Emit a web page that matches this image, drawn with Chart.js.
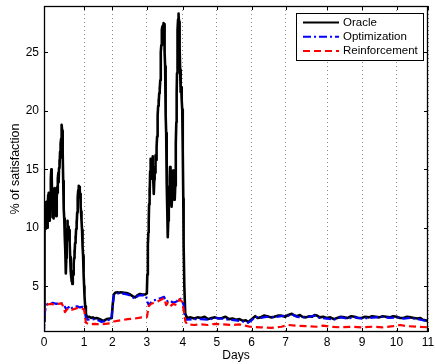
<!DOCTYPE html>
<html>
<head>
<meta charset="utf-8">
<script src="https://cdn.jsdelivr.net/npm/chart.js@4/dist/chart.umd.min.js"></script>
<style>
  html, body { margin: 0; padding: 0; background: #fff; }
</style>
</head>
<body>
<canvas id="myChart" width="435" height="364"></canvas>
<script>
// x ticks are placed where each day starts on the recorded time axis
const dayTicks = [0, 1.147, 1.959, 2.946, 3.979, 4.954, 5.947, 6.922, 8.110, 9.114, 10.098, 11];
const dayLabels = ['0', '1', '2', '3', '4', '5', '6', '7', '8', '9', '10', '11'];
const satTicks = [5, 10, 15, 20, 25];

// [day, % of satisfaction]
const oracle = [
  [0, 2.0], [0.01, 6.0], [0.02, 9.5], [0.03, 10.8], [0.04, 9.9], [0.05, 11.5], [0.06, 12.2], [0.07, 11.0],
  [0.08, 11.9], [0.09, 10.3], [0.1, 10.0], [0.11, 11.8], [0.12, 12.8], [0.13, 12.1], [0.14, 13.0], [0.15, 11.2],
  [0.16, 10.6], [0.17, 11.6], [0.18, 12.9], [0.19, 13.4], [0.2, 14.2], [0.21, 15.0], [0.22, 14.6], [0.23, 12.8],
  [0.24, 11.6], [0.25, 10.9], [0.26, 11.5], [0.27, 10.8], [0.28, 12.3], [0.29, 13.3], [0.3, 12.6], [0.31, 13.4],
  [0.32, 12.5], [0.33, 11.4], [0.34, 12.2], [0.35, 11.0], [0.36, 11.6], [0.37, 12.6], [0.38, 13.5], [0.39, 13.0],
  [0.4, 14.2], [0.41, 14.7], [0.42, 13.9], [0.43, 15.1], [0.44, 15.8], [0.45, 15.2], [0.46, 16.5], [0.47, 16.0],
  [0.48, 17.2], [0.49, 17.6], [0.5, 18.4], [0.51, 18.8], [0.52, 18.3], [0.53, 17.9], [0.54, 16.5], [0.55, 14.0],
  [0.56, 12.5], [0.57, 11.6], [0.58, 10.8], [0.59, 10.1], [0.6, 9.2], [0.61, 8.0], [0.62, 6.8], [0.63, 6.1],
  [0.64, 7.4], [0.65, 8.6], [0.66, 9.9], [0.67, 10.6], [0.68, 9.8], [0.69, 9.0], [0.7, 9.5], [0.71, 10.1],
  [0.72, 9.6], [0.73, 9.8], [0.74, 8.7], [0.75, 7.5], [0.76, 6.8], [0.77, 6.3], [0.78, 5.8], [0.79, 5.4],
  [0.8, 5.9], [0.81, 5.2], [0.82, 5.6], [0.83, 6.3], [0.84, 6.0], [0.85, 6.9], [0.86, 7.4], [0.87, 8.1],
  [0.88, 7.7], [0.89, 8.7], [0.9, 9.3], [0.91, 9.0], [0.92, 9.9], [0.93, 10.6], [0.94, 10.2], [0.95, 11.3],
  [0.96, 12.0], [0.97, 12.6], [0.98, 13.2], [0.99, 12.7], [1.0, 13.6], [1.01, 13.1], [1.02, 13.5], [1.03, 12.6],
  [1.04, 12.9], [1.05, 11.8], [1.06, 11.4], [1.07, 10.9], [1.08, 10.6], [1.09, 9.8], [1.1, 9.0], [1.11, 8.4],
  [1.12, 7.6], [1.13, 7.0], [1.14, 6.0], [1.15, 5.0], [1.16, 4.2], [1.18, 3.3], [1.2, 2.7], [1.225, 2.35],
  [1.3, 2.4], [1.35, 2.3], [1.4, 2.35], [1.45, 2.25], [1.5, 2.3], [1.55, 2.25], [1.6, 2.2], [1.66, 2.1],
  [1.72, 2.05], [1.76, 2.15], [1.8, 2.2], [1.88, 2.25], [1.94, 2.3], [1.97, 3.5], [2.0, 4.3], [2.04, 4.45],
  [2.1, 4.5], [2.15, 4.45], [2.2, 4.5], [2.3, 4.45], [2.4, 4.4], [2.47, 4.3], [2.55, 4.15], [2.61, 4.05],
  [2.68, 4.25], [2.75, 4.35], [2.82, 4.3], [2.9, 4.3],
  [2.946, 4.4], [2.96, 6.0], [2.975, 8.5], [2.99, 9.6], [3.0, 10.5], [3.01, 12.0], [3.02, 13.4], [3.03, 12.6],
  [3.04, 14.8], [3.05, 15.6], [3.06, 15.9], [3.07, 14.2], [3.08, 15.4], [3.09, 14.6], [3.1, 15.8], [3.11, 16.1],
  [3.12, 15.3], [3.13, 14.0], [3.14, 13.2], [3.15, 12.9], [3.16, 14.1], [3.17, 15.2], [3.18, 14.7], [3.19, 15.5],
  [3.2, 16.2], [3.21, 15.8], [3.22, 16.6], [3.23, 16.9], [3.24, 17.8], [3.25, 18.9], [3.26, 19.6], [3.27, 20.4],
  [3.28, 21.0], [3.29, 20.6], [3.3, 21.5], [3.31, 22.0], [3.32, 21.8], [3.33, 22.6], [3.34, 23.8], [3.35, 25.0],
  [3.36, 25.6], [3.37, 26.4], [3.38, 26.9], [3.39, 27.2], [3.4, 26.8], [3.41, 27.3], [3.42, 27.1], [3.43, 27.5],
  [3.44, 27.4], [3.45, 26.2], [3.46, 25.0], [3.47, 23.8], [3.48, 21.5], [3.49, 19.6], [3.5, 18.1], [3.51, 15.8],
  [3.52, 13.8], [3.53, 11.6], [3.54, 9.8], [3.55, 9.2], [3.56, 10.6], [3.57, 12.1], [3.58, 13.5], [3.59, 12.8],
  [3.6, 14.2], [3.61, 15.2], [3.62, 14.0], [3.63, 12.9], [3.64, 12.3], [3.65, 13.4], [3.66, 11.8], [3.67, 12.6],
  [3.68, 13.6], [3.69, 14.3], [3.7, 14.9], [3.71, 13.8], [3.72, 13.0], [3.73, 12.4], [3.74, 13.1], [3.75, 12.4],
  [3.76, 13.6], [3.77, 15.4], [3.78, 17.2], [3.79, 19.0], [3.8, 21.5], [3.81, 23.2], [3.82, 25.6], [3.83, 26.9],
  [3.84, 27.8], [3.85, 28.3], [3.86, 28.1], [3.87, 27.6], [3.88, 27.0], [3.89, 25.4], [3.9, 23.5], [3.91, 22.3],
  [3.92, 21.6], [3.93, 22.0], [3.94, 21.2], [3.95, 20.9], [3.96, 20.1], [3.97, 18.2], [3.98, 16.6], [3.99, 12.5],
  [4.0, 8.5], [4.02, 5.0], [4.045, 2.7], [4.094, 2.3],
  [4.2, 2.35], [4.3, 2.25], [4.4, 2.35], [4.5, 2.3], [4.6, 2.4], [4.7, 2.2], [4.8, 2.3], [4.9, 2.35],
  [5.0, 2.25], [5.1, 2.3], [5.2, 2.4], [5.3, 2.2], [5.4, 2.25], [5.5, 2.15], [5.6, 2.2], [5.7, 2.05],
  [5.78, 2.1], [5.85, 1.95], [5.95, 2.2], [6.05, 2.45], [6.12, 2.3], [6.2, 2.35], [6.3, 2.5], [6.4, 2.45],
  [6.5, 2.35], [6.6, 2.4], [6.7, 2.5], [6.8, 2.5], [6.9, 2.4], [7.0, 2.55], [7.1, 2.65], [7.18, 2.5],
  [7.25, 2.45], [7.33, 2.55], [7.4, 2.4], [7.5, 2.35], [7.6, 2.45], [7.68, 2.4], [7.75, 2.55], [7.82, 2.5],
  [7.9, 2.35], [8.0, 2.4], [8.1, 2.3], [8.2, 2.35], [8.3, 2.2], [8.4, 2.3], [8.5, 2.4], [8.6, 2.35],
  [8.7, 2.3], [8.8, 2.45], [8.9, 2.4], [9.0, 2.3], [9.1, 2.3], [9.2, 2.4], [9.3, 2.35], [9.4, 2.45],
  [9.5, 2.4], [9.6, 2.35], [9.7, 2.45], [9.8, 2.4], [9.9, 2.35], [10.0, 2.45], [10.1, 2.4], [10.2, 2.3],
  [10.3, 2.3], [10.4, 2.4], [10.5, 2.35], [10.6, 2.3], [10.7, 2.25], [10.78, 2.3], [10.85, 2.15], [10.93, 2.1],
  [11.0, 2.05]
];

const optimization = [
  [0, 1.1], [0.02, 2.6], [0.05, 3.3], [0.1, 3.5], [0.17, 3.45], [0.25, 3.6], [0.35, 3.5], [0.45, 3.6],
  [0.55, 3.5], [0.6, 3.25], [0.63, 3.05], [0.7, 3.2], [0.75, 3.35], [0.8, 3.15], [0.87, 3.25], [0.95, 3.3],
  [1.03, 3.2], [1.1, 3.25], [1.15, 3.2], [1.2, 2.3], [1.25, 2.15], [1.4, 2.2], [1.55, 2.1], [1.65, 1.95],
  [1.8, 2.1], [1.93, 2.15], [1.97, 3.4], [2.0, 4.2], [2.1, 4.4], [2.2, 4.4], [2.3, 4.35], [2.4, 4.3],
  [2.5, 4.15], [2.6, 3.95], [2.7, 4.2], [2.8, 4.25], [2.92, 4.2], [2.96, 3.7], [3.0, 3.4], [3.06, 3.6],
  [3.15, 3.8], [3.25, 3.9], [3.35, 4.0], [3.44, 4.1], [3.5, 3.7], [3.6, 3.8], [3.7, 3.6], [3.8, 3.7],
  [3.88, 4.0], [3.95, 3.8], [4.0, 3.4], [4.04, 2.2], [4.1, 2.15], [4.3, 2.2], [4.5, 2.2], [4.7, 2.15],
  [4.9, 2.3], [5.1, 2.25], [5.3, 2.15], [5.5, 2.1], [5.7, 2.0], [5.85, 1.9], [5.95, 2.1], [6.05, 2.4],
  [6.2, 2.3], [6.4, 2.4], [6.6, 2.35], [6.8, 2.45], [7.0, 2.5], [7.1, 2.6], [7.25, 2.4], [7.4, 2.35],
  [7.6, 2.4], [7.75, 2.5], [7.9, 2.3], [8.1, 2.25], [8.3, 2.15], [8.5, 2.35], [8.7, 2.25], [8.9, 2.35],
  [9.1, 2.25], [9.3, 2.3], [9.5, 2.35], [9.7, 2.4], [9.9, 2.3], [10.1, 2.35], [10.3, 2.25], [10.5, 2.3],
  [10.7, 2.2], [10.85, 2.1], [11.0, 2.0]
];

const reinforcement = [
  [0, 2.6], [0.02, 3.3], [0.1, 3.45], [0.2, 3.5], [0.3, 3.45], [0.4, 3.5], [0.5, 3.55], [0.55, 3.3],
  [0.6, 2.8], [0.65, 3.0], [0.7, 3.15], [0.8, 3.0], [0.9, 3.1], [1.0, 3.2], [1.1, 3.1], [1.15, 3.0],
  [1.2, 1.9], [1.3, 1.75], [1.45, 1.8], [1.6, 1.75], [1.75, 1.8], [1.9, 1.85], [2.0, 2.0], [2.2, 2.1],
  [2.4, 2.2], [2.6, 2.25], [2.8, 2.35], [2.95, 2.4], [3.0, 3.3], [3.06, 3.5], [3.15, 3.6], [3.25, 3.7],
  [3.35, 3.85], [3.44, 4.0], [3.5, 3.4], [3.55, 3.6], [3.62, 3.3], [3.7, 3.5], [3.8, 3.4], [3.88, 3.9],
  [3.95, 3.7], [4.0, 3.0], [4.05, 2.0], [4.1, 1.75], [4.3, 1.7], [4.5, 1.75], [4.7, 1.7], [4.9, 1.8],
  [5.1, 1.75], [5.4, 1.7], [5.6, 1.75], [5.9, 1.55], [6.2, 1.5], [6.5, 1.45], [6.8, 1.55], [7.0, 1.7],
  [7.2, 1.65], [7.5, 1.6], [7.8, 1.55], [8.0, 1.65], [8.2, 1.55], [8.5, 1.5], [8.8, 1.55], [9.1, 1.5],
  [9.4, 1.55], [9.7, 1.5], [10.0, 1.6], [10.2, 1.7], [10.4, 1.6], [10.7, 1.55], [11, 1.5]
];

const toPoints = rows => rows.map(r => ({ x: r[0], y: r[1] }));

Chart.defaults.font.family = '"Liberation Sans", Arial, Helvetica, sans-serif';
Chart.defaults.font.size = 12;
Chart.defaults.color = '#000';

// no extra room for overhanging tick labels, keep the plot box fixed
const noOverhang = s => {
  s.paddingLeft = 0; s.paddingRight = 0; s.paddingTop = 0; s.paddingBottom = 0;
};

// matlab style box, inward ticks and framed legend
const matlabBox = {
  id: 'matlabBox',
  afterDatasetsDraw(chart) {
    const { ctx, chartArea: a, scales } = chart;
    const x = scales.x, y = scales.y;
    ctx.save();
    ctx.strokeStyle = '#000';
    ctx.lineWidth = 1;
    ctx.beginPath();
    x.ticks.forEach(t => {
      const px = Math.round(x.getPixelForValue(t.value)) + 0.5;
      ctx.moveTo(px, a.bottom); ctx.lineTo(px, a.bottom - 4);
      ctx.moveTo(px, a.top); ctx.lineTo(px, a.top + 4);
    });
    y.ticks.forEach(t => {
      const py = Math.round(y.getPixelForValue(t.value)) + 0.5;
      ctx.moveTo(a.left, py); ctx.lineTo(a.left + 4, py);
      ctx.moveTo(a.right, py); ctx.lineTo(a.right - 4, py);
    });
    ctx.stroke();
    ctx.lineWidth = 1.3;
    ctx.strokeRect(a.left + 0.5, a.top + 0.5, a.right - a.left - 1, a.bottom - a.top - 1);

    // legend
    const lx = 296, ly = 13, lw = 127, lh = 47;
    ctx.fillStyle = '#fff';
    ctx.fillRect(lx, ly, lw, lh);
    ctx.lineWidth = 1;
    ctx.strokeRect(lx + 0.5, ly + 0.5, lw, lh);
    ctx.font = '11.5px "Liberation Sans", Arial, sans-serif';
    ctx.textBaseline = 'middle';
    chart.data.datasets.forEach((ds, i) => {
      const cy = ly + 9.5 + i * 14.3;
      ctx.strokeStyle = ds.borderColor;
      ctx.lineWidth = Math.min(ds.borderWidth, 2);
      ctx.setLineDash(ds.borderDash || []);
      ctx.beginPath();
      ctx.moveTo(lx + 7, cy);
      ctx.lineTo(lx + 43, cy);
      ctx.stroke();
      ctx.setLineDash([]);
      ctx.fillStyle = '#000';
      ctx.fillText(ds.label, lx + 47, cy);
    });
    ctx.restore();
  }
};

new Chart(document.getElementById('myChart'), {
  type: 'line',
  data: {
    datasets: [
      {
        label: 'Oracle',
        data: toPoints(oracle),
        borderColor: '#000',
        borderWidth: 2.6,
        order: 3
      },
      {
        label: 'Optimization',
        data: toPoints(optimization),
        borderColor: '#0000ff',
        borderWidth: 2.2,
        borderDash: [8, 3, 2, 3],
        order: 2
      },
      {
        label: 'Reinforcement',
        data: toPoints(reinforcement),
        borderColor: '#ff0000',
        borderWidth: 2.2,
        borderDash: [7, 4],
        order: 1
      }
    ]
  },
  options: {
    responsive: false,
    animation: false,
    devicePixelRatio: 1,
    layout: { padding: { left: 0, top: 6, right: 7, bottom: 0 } },
    elements: { point: { radius: 0 }, line: { tension: 0, fill: false, borderJoinStyle: 'round' } },
    plugins: { legend: { display: false }, tooltip: { enabled: false } },
    scales: {
      x: {
        type: 'linear',
        min: 0,
        max: 11,
        afterBuildTicks: s => { s.ticks = dayTicks.map(v => ({ value: v })); },
        afterFit: s => { s.height = 32; noOverhang(s); },
        ticks: {
          padding: 3,
          maxRotation: 0,
          autoSkip: false,
          callback: (v, i) => dayLabels[i]
        },
        grid: { color: '#8a8a8a', lineWidth: 1, drawTicks: false },
        border: { display: false, dash: [1, 3] },
        title: { display: true, text: 'Days', padding: { top: 0, bottom: 1 } }
      },
      y: {
        type: 'linear',
        min: 1.1,
        max: 28.95,
        afterBuildTicks: s => { s.ticks = satTicks.map(v => ({ value: v })); },
        afterFit: s => { s.width = 44; noOverhang(s); },
        ticks: { padding: 5, callback: v => String(v) },
        grid: { display: false, drawTicks: false },
        border: { display: false },
        title: { display: true, text: '% of satisfaction', font: { size: 12.5 }, padding: { top: 8, bottom: 0 } }
      }
    }
  },
  plugins: [matlabBox]
});
</script>
</body>
</html>
